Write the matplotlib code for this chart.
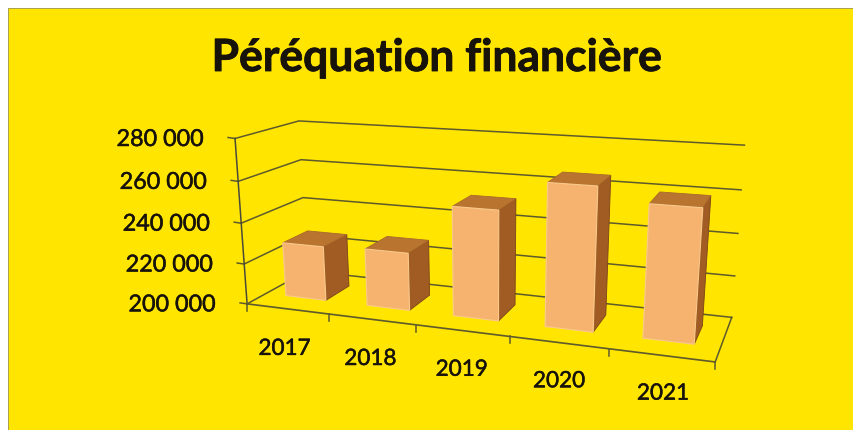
#!/usr/bin/env python3
"""Péréquation financière, Excel-style 3D column chart on a yellow card."""

import matplotlib

matplotlib.use("Agg")
import matplotlib.patheffects as pe
import matplotlib.pyplot as plt
import numpy as np
from matplotlib.patches import Polygon, Rectangle

YEARS = ["2017", "2018", "2019", "2020", "2021"]
VALUES = [227000, 228000, 252000, 266000, 260000]
Y_TICKS = [200000, 220000, 240000, 260000, 280000]
Y_LABELS = ["200 000", "220 000", "240 000", "260 000", "280 000"]
TITLE = "Péréquation financière"

YELLOW = "#FFE500"
LINE = "#5E5A2C"
FRONT = "#F6B36F"
TOP = "#B9742F"
SIDE = "#A05C22"
INK = "#17130A"

# box corners (u along years, d depth, v height) -> picture pixels
CORNERS = [
    ((0, 0, 0), (247, 303)),
    ((1, 0, 0), (715, 362)),
    ((0, 1, 0), (307, 272)),
    ((1, 1, 0), (732, 317)),
    ((0, 0, 1), (235, 137)),
    ((1, 0, 1), (729, 172)),
    ((0, 1, 1), (299, 122)),
    ((1, 1, 1), (744, 143)),
]
GAP = 0.25
DEPTH_FRONT, DEPTH_BACK = 0.30, 0.72


def fit_camera(corners):
    rows = []
    for (x, y, z), (px, py) in corners:
        rows.append([x, y, z, 1, 0, 0, 0, 0, -px * x, -px * y, -px * z, -px])
        rows.append([0, 0, 0, 0, x, y, z, 1, -py * x, -py * y, -py * z, -py])
    return np.linalg.svd(np.array(rows, dtype=float))[2][-1].reshape(3, 4)


CAMERA = fit_camera(CORNERS)


def project(u, d, v):
    x, y, w = CAMERA @ np.array([u, d, v, 1.0])
    return x / w, y / w


def height(value):
    return (value - Y_TICKS[0]) / (Y_TICKS[-1] - Y_TICKS[0])


def heavier(width):
    return [pe.withStroke(linewidth=width, foreground=INK)]


def draw_frame(ax):
    for tick in Y_TICKS:
        v = height(tick)
        pts = [project(0, 0, v), project(0, 1, v), project(1, 1, v)]
        ax.plot(*zip(*pts), color=LINE, lw=1.1, zorder=2)
        x, y = project(0, 0, v)
        ax.plot([x - 7, x], [y - 1, y], color=LINE, lw=1.1, zorder=2)
        ax.text(x - 31, y + 1, Y_LABELS[Y_TICKS.index(tick)], ha="right", va="center",
                fontsize=16.8, color=INK, family="Lato", path_effects=heavier(0.35))
    ax.plot(*zip(project(0, 0, 0), project(0, 0, 1)), color="#4A4A3A", lw=1.1, zorder=2)
    ax.plot(*zip(project(1, 1, 0), project(1, 0, 0)), color=LINE, lw=1.1, zorder=2)
    ax.plot(*zip(project(0, 0, 0), project(1, 0, 0)), color=LINE, lw=1.2, zorder=2)
    for i in range(len(YEARS) + 1):
        x, y = project(i / len(YEARS), 0, 0)
        ax.plot([x, x], [y, y + 7], color=LINE, lw=1.1, zorder=2)


def draw_bars(ax):
    n = len(YEARS)
    for i, value in enumerate(VALUES):
        u0, u1 = (i + GAP) / n, (i + 1 - GAP) / n
        d0, d1 = DEPTH_FRONT, DEPTH_BACK
        v = height(value)
        side = [project(u1, d0, 0), project(u1, d1, 0), project(u1, d1, v), project(u1, d0, v)]
        top = [project(u0, d0, v), project(u1, d0, v), project(u1, d1, v), project(u0, d1, v)]
        front = [project(u0, d0, 0), project(u1, d0, 0), project(u1, d0, v), project(u0, d0, v)]
        ax.add_patch(Polygon(side, fc=SIDE, ec="#7D4418", lw=0.6, zorder=3))
        ax.add_patch(Polygon(top, fc=TOP, ec="#A86A2A", lw=0.6, zorder=3))
        ax.add_patch(Polygon(front, fc=FRONT, ec="#F9C98C", lw=0.8, zorder=4))

        x, y = project((i + 0.5) / n, 0, 0)
        ax.text(x - 3 + 1.2 * i, y + 40 - 0.4 * i, YEARS[i], ha="center", va="center",
                fontsize=16.2, color=INK, family="Lato", path_effects=heavier(0.35))


def main():
    fig = plt.figure(figsize=(8.54, 4.30), dpi=100, facecolor="white")
    ax = fig.add_axes([0, 0, 1, 1])
    ax.set_xlim(0, 854)
    ax.set_ylim(430, 0)
    ax.axis("off")

    ax.add_patch(Rectangle((8, 8), 846, 422, fc=YELLOW, ec="none", zorder=0))
    ax.plot([8, 8, 854], [430, 8, 8], color="#A8A050", lw=0.7, zorder=1)

    ax.text(437, 58, TITLE, ha="center", va="center", fontsize=32, fontweight="bold",
            color=INK, family="Lato", path_effects=heavier(0.6))
    draw_frame(ax)
    draw_bars(ax)

    fig.savefig("out.png", dpi=100)
    plt.close(fig)


if __name__ == "__main__":
    main()
